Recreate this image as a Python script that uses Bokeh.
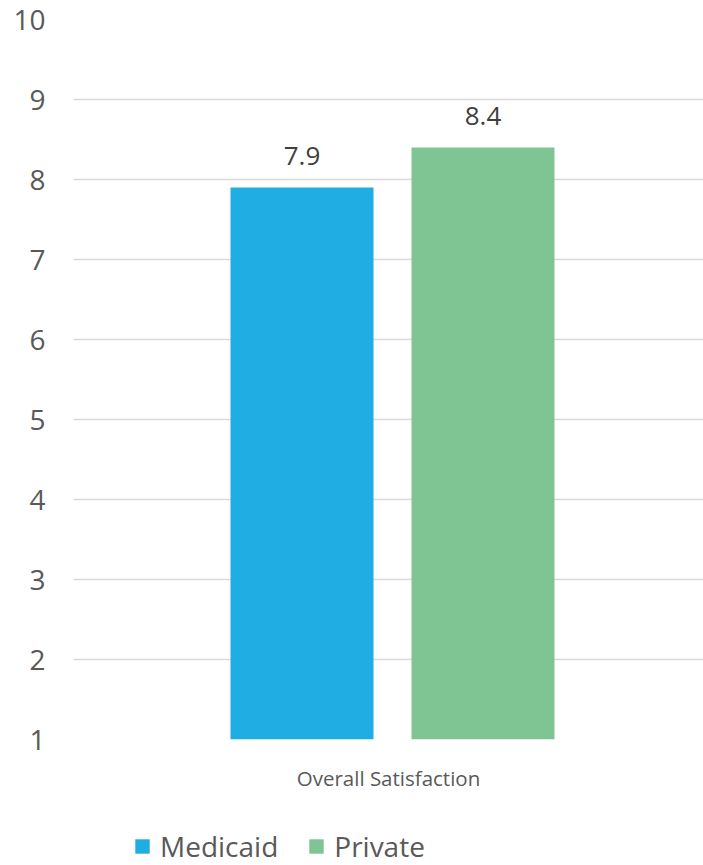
from bokeh.plotting import figure
from bokeh.layouts import column
from bokeh.models import ColumnDataSource, FactorRange, Range1d, FixedTicker, Legend, LegendItem
from bokeh.transform import dodge
from bokeh.core.properties import value
from bokeh.embed import file_html
from bokeh.resources import INLINE

categories = ["Overall Satisfaction"]
series = ["Medicaid", "Private"]
medicaid = [7.9]
private = [8.4]
yticks = [1, 2, 3, 4, 5, 6, 7, 8, 9, 10]

FONT = "Open Sans"
colors = {"Medicaid": "#1FADE4", "Private": "#7FC594"}
offsets = {"Medicaid": -0.1373, "Private": 0.15}

p = figure(
    x_range=FactorRange(*categories, range_padding=0),
    y_range=Range1d(1, 10),
    frame_width=630, frame_height=720,
    min_border_left=73, min_border_right=0, min_border_top=19, min_border_bottom=61,
    output_backend="svg", toolbar_location=None,
)

src = ColumnDataSource(dict(
    cat=categories,
    Medicaid=medicaid,
    Private=private,
    Medicaid_lbl=[f"{v:.1f}" for v in medicaid],
    Private_lbl=[f"{v:.1f}" for v in private],
))

for s in series:
    p.vbar(x=dodge("cat", offsets[s], range=p.x_range), top=s, bottom=1, width=0.227,
           source=src, fill_color=colors[s], line_color=None)
    p.text(x=dodge("cat", offsets[s], range=p.x_range), y=s, text=s + "_lbl", source=src,
           text_font=value(FONT), text_font_size="26px", text_color="#404040",
           text_align="center", text_baseline="alphabetic", y_offset=-32)

p.outline_line_color = None
p.xgrid.grid_line_color = None
p.ygrid.grid_line_color = "#D9D9D9"
p.ygrid.grid_line_width = 1.5
p.yaxis.ticker = FixedTicker(ticks=yticks)

for ax in (p.xaxis[0], p.yaxis[0]):
    ax.axis_line_color = None
    ax.major_tick_line_color = None
    ax.minor_tick_line_color = None
    ax.major_tick_out = 0
    ax.major_tick_in = 0
    ax.minor_tick_out = 0
    ax.major_label_text_font = FONT
    ax.major_label_text_color = "#595959"

p.yaxis.major_label_text_font_size = "28px"
p.yaxis.major_label_standoff = 28
p.xaxis.major_label_text_font_size = "20.5px"
p.xaxis.major_label_standoff = 24

# Legend strip (separate small figure so the legend sits inside a frame)
p2 = figure(width=703, height=65, min_border=0,
            x_range=Range1d(0, 1), y_range=Range1d(0, 1),
            x_axis_location=None, y_axis_location=None,
            output_backend="svg", toolbar_location=None)
p2.outline_line_color = None
p2.grid.grid_line_color = None
items = []
for s in series:
    r = p2.vbar(x="cat", top=s, width=0.1, source=ColumnDataSource(dict(cat=[0], **{s: src.data[s]})),
                fill_color=colors[s], line_color=None, visible=False)
    items.append(LegendItem(label=s, renderers=[r]))

lg = Legend(items=items, orientation="horizontal", location=(60, 0),
            padding=0, margin=0, spacing=29, label_standoff=9,
            glyph_width=18, glyph_height=18,
            border_line_color=None, background_fill_alpha=0,
            inactive_fill_alpha=0,
            label_text_font=FONT, label_text_font_size="28px",
            label_text_color="#595959")
p2.add_layout(lg, "center")

layout = column(p, p2, spacing=0)
open("out.html", "w").write(file_html(layout, INLINE))
